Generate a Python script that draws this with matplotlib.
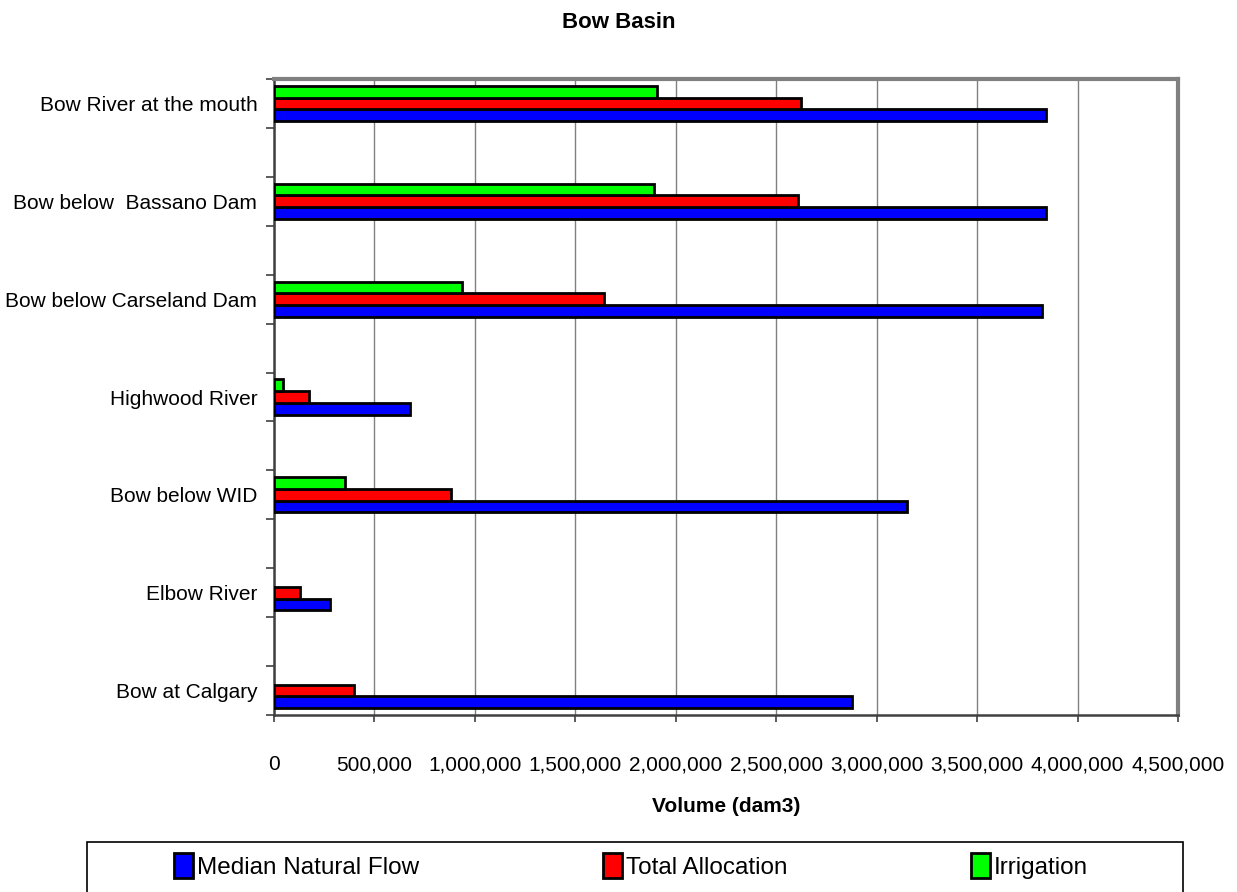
import matplotlib
matplotlib.use("Agg")
import matplotlib.pyplot as plt
import numpy as np
from matplotlib.patches import Patch, Rectangle
from matplotlib.ticker import FuncFormatter

plt.rcParams['font.family'] = ['Liberation Sans', 'DejaVu Sans']

# Stations, listed top to bottom as shown on the chart
stations = [
    "Bow River at the mouth",
    "Bow below  Bassano Dam",
    "Bow below Carseland Dam",
    "Highwood River",
    "Bow below WID",
    "Elbow River",
    "Bow at Calgary",
]
# Volumes in dam3
median_natural_flow = [3843000, 3843000, 3825000, 678000, 3150000, 280000, 2875000]
total_allocation = [2624000, 2609000, 1642000, 175000, 882000, 131000, 400000]
irrigation = [1905000, 1891000, 938000, 44000, 354000, 0, 0]

series_names = ["Median Natural Flow", "Total Allocation", "Irrigation"]
series_colors = ["#0000FF", "#FF0000", "#00FF00"]

W, H = 1237, 892
fig = plt.figure(figsize=(W / 100, H / 100), dpi=100)
ax = fig.add_axes([274 / W, 1 - 715 / H, 904 / W, 636 / H])

pos = np.arange(len(stations))
bar_h = 0.12
offsets = [bar_h, 0.0, -bar_h]  # y axis is inverted: blue lowest, green on top
for vals, off, color in zip([median_natural_flow, total_allocation, irrigation],
                            offsets, series_colors):
    v = np.array(vals, dtype=float)
    keep = v > 0
    ax.barh(pos[keep] + off, v[keep], height=bar_h, color=color,
            edgecolor="black", linewidth=2.0, zorder=3)

ax.set_xlim(0, 4500000)
ax.set_ylim(len(stations) - 0.75, -0.25)

ax.set_xticks(np.arange(0, 4500001, 500000))
ax.xaxis.set_major_formatter(FuncFormatter(lambda x, p: f"{x:,.0f}"))
ax.tick_params(axis="x", direction="out", length=5, width=1.2, color="#404040",
               pad=24, labelsize=15)
ax.xaxis.grid(True, color="#808080", linewidth=1.0)
ax.set_axisbelow(True)

ax.set_yticks(pos)
ax.set_yticklabels(stations)
ax.set_yticks(np.arange(-0.25, len(stations) - 0.5, 0.5), minor=True)
ax.tick_params(axis="y", which="major", length=0, pad=12, labelsize=15)
ax.tick_params(axis="y", which="minor", direction="out", length=6, width=1.2,
               color="#404040")

for side in ("left", "bottom"):
    ax.spines[side].set_color("#404040")
    ax.spines[side].set_linewidth(1.8)
for side in ("top", "right"):
    ax.spines[side].set_color("#808080")
    ax.spines[side].set_linewidth(3)

ax.set_xlabel("Volume (dam3)", fontsize=15, fontweight="bold", labelpad=16)
fig.text(0.5, 1 - 22 / H, "Bow Basin", ha="center", va="center",
         fontsize=16, fontweight="bold")

# Legend box runs off the bottom edge of the figure
fig.patches.append(Rectangle((87 / W, -0.05), (1183 - 87) / W, 0.05 + 1 - 842 / H,
                             transform=fig.transFigure, facecolor="white",
                             edgecolor="black", linewidth=1.2))
handles = [Patch(facecolor=c, edgecolor="black", linewidth=2.0) for c in series_colors]
fig.legend(handles, series_names, loc="center left",
           bbox_to_anchor=(174 / W, 1 - 866 / H), ncol=3, frameon=False,
           fontsize=17.5, handlelength=0.8, handleheight=1.2,
           handletextpad=0.15, columnspacing=7.55, borderpad=0, borderaxespad=0)

fig.savefig("out.png", dpi=100)
